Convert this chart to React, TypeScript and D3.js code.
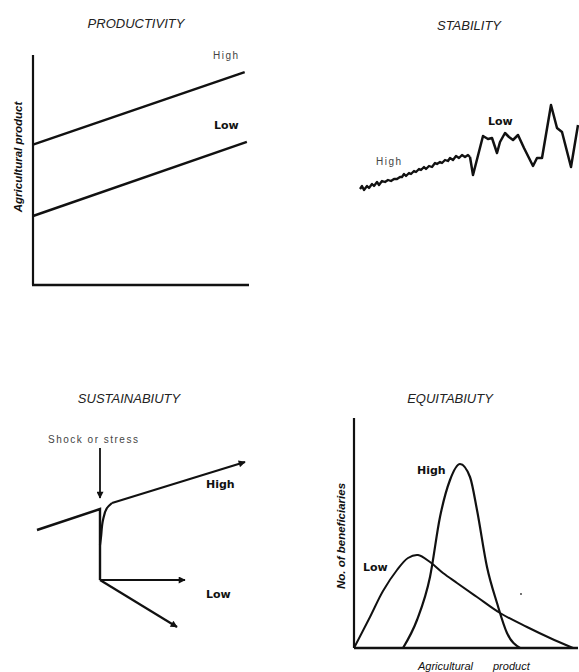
import React from "react";
import * as d3 from "d3";

// ---------- DATA ----------
// Productivity: [time, agricultural product]
const prodHigh: [number, number][] = [[0, 61], [98, 92.6]];
const prodLow: [number, number][] = [[0, 30], [99, 62.2]];

// Stability: [time, product]
const stabHigh: [number, number][] = [
  [0, 11], [2, 14], [4, 10], [7, 14], [9, 12], [12, 16], [14, 14], [17, 18], [19, 15],
  [22, 19], [25, 18], [28, 20], [31, 19], [34, 21], [37, 21], [40, 23], [42, 23], [44, 26],
  [46, 24], [49, 27], [51, 26], [54, 29], [56, 28], [59, 31], [61, 30], [64, 33], [66, 31],
  [69, 34], [72, 33], [75, 37], [77, 36], [80, 38], [82, 37], [85, 40], [88, 39], [90, 42],
  [93, 40], [96, 44], [99, 42], [102, 45], [105, 43], [108, 45], [110, 43],
];
const stabLow: [number, number][] = [
  [110, 43], [113, 25], [123, 64], [128, 61], [132, 62], [137, 47], [140, 58], [145, 67],
  [149, 63], [153, 60], [158, 65], [164, 52], [173, 34], [177, 42], [182, 42], [191, 95],
  [197, 72], [202, 68], [211, 33], [218, 75],
];

// Sustainability: [time, product]
const sustBefore: [number, number][] = [[0, 100], [63, 121], [63, 50]];
const sustRecovery: [number, number][] = [[63, 85], [64, 93], [66, 110], [70, 122], [75, 127], [208, 168]];
const sustLowFlat: [number, number][] = [[63, 50], [148, 50]];
const sustLowDecline: [number, number][] = [[63, 50], [140, 3]];
const sustShock: [number, number][] = [[63, 182], [63, 132]];

// Equitability: [agricultural product, no. of beneficiaries]
const eqHigh: [number, number][] = [
  [49, 0], [63, 28], [76, 71], [86, 131], [96, 168], [106, 184], [116, 171], [123, 138],
  [133, 81], [143, 45], [153, 15], [166, 0],
];
const eqLow: [number, number][] = [
  [0, 0], [16, 31], [29, 57], [43, 78], [54, 90], [64, 93], [76, 86], [89, 75], [103, 65],
  [123, 51], [146, 35], [173, 21], [196, 10], [219, 0],
];

const titles = ["PRODUCTIVITY", "STABILITY", "SUSTAINABIUTY", "EQUITABIUTY"];
const seriesLabels = ["High", "Low"];

// ---------- SCALES ----------
const pX = d3.scaleLinear().domain([0, 100]).range([33, 249]);
const pY = d3.scaleLinear().domain([0, 100]).range([285, 55]);

const sX = d3.scaleLinear().domain([0, 218]).range([360, 578]);
const sY = d3.scaleLinear().domain([0, 100]).range([200, 100]);

const uX = d3.scaleLinear().domain([0, 210]).range([37, 247]);
const uY = d3.scaleLinear().domain([0, 180]).range([630, 450]);

const eX = d3.scaleLinear().domain([0, 224]).range([354, 578]);
const eY = d3.scaleLinear().domain([0, 230]).range([648, 418]);

const mk = (x: d3.ScaleLinear<number, number>, y: d3.ScaleLinear<number, number>, curve: d3.CurveFactory = d3.curveLinear) =>
  d3.line<[number, number]>().x((d) => x(d[0])).y((d) => y(d[1])).curve(curve);

const titleStyle: React.CSSProperties = {
  fontFamily: "'Liberation Sans', Arial, sans-serif",
  fontStyle: "italic",
  fontSize: 13,
  fill: "#222",
};
const grayLabel: React.CSSProperties = {
  fontFamily: "'Liberation Sans', Arial, sans-serif",
  fontSize: 10,
  letterSpacing: 1.5,
  fill: "#444",
};
const boldLabel: React.CSSProperties = {
  fontFamily: "'DejaVu Sans', sans-serif",
  fontSize: 11,
  fontWeight: 600,
  fill: "#111",
};
const axisLabel: React.CSSProperties = {
  fontFamily: "'Liberation Sans', Arial, sans-serif",
  fontStyle: "italic",
  fontWeight: "bold",
  fontSize: 11.5,
  fill: "#111",
};

export default function App() {
  const pLine = mk(pX, pY);
  const sLine = mk(sX, sY);
  const uLine = mk(uX, uY);
  const uCurve = mk(uX, uY, d3.curveMonotoneY);
  const eHighLine = mk(eX, eY, d3.curveMonotoneX);
  const eLowLine = mk(eX, eY, d3.curveCatmullRom.alpha(0.5));

  return (
    <svg width={579} height={672} style={{ position: "absolute", left: 0, top: 0, background: "#fff" }}>
      <defs>
        <marker id="arr" viewBox="0 0 10 10" refX={9} refY={5} markerWidth={9} markerHeight={7}
          markerUnits="userSpaceOnUse" orient="auto">
          <path d="M0,0 L10,5 L0,10 z" fill="#111" />
        </marker>
      </defs>

      {/* PRODUCTIVITY */}
      <text x={136} y={28} textAnchor="middle" style={titleStyle}>{titles[0]}</text>
      <line x1={pX(0)} x2={pX(0)} y1={pY(100)} y2={pY(0)} stroke="#111" strokeWidth={2.2} />
      <line x1={pX(0) - 1} x2={pX(100)} y1={pY(0)} y2={pY(0)} stroke="#111" strokeWidth={2.4} />
      <path d={pLine(prodHigh) || ""} fill="none" stroke="#111" strokeWidth={2.4} />
      <path d={pLine(prodLow) || ""} fill="none" stroke="#111" strokeWidth={2.4} />
      <text x={213} y={59} style={grayLabel}>{seriesLabels[0]}</text>
      <text x={214} y={129} style={boldLabel}>{seriesLabels[1]}</text>
      <text transform="translate(22,157) rotate(-90)" textAnchor="middle" style={axisLabel}>Agricultural product</text>

      {/* STABILITY */}
      <text x={469} y={30} textAnchor="middle" style={titleStyle}>{titles[1]}</text>
      <path d={sLine(stabHigh) || ""} fill="none" stroke="#111" strokeWidth={2.3} strokeLinejoin="round" />
      <path d={sLine(stabLow) || ""} fill="none" stroke="#111" strokeWidth={2.5} strokeLinejoin="round" />
      <text x={376} y={165} style={grayLabel}>{seriesLabels[0]}</text>
      <text x={488} y={125} style={boldLabel}>{seriesLabels[1]}</text>

      {/* SUSTAINABILITY */}
      <text x={129} y={403} textAnchor="middle" style={titleStyle}>{titles[2]}</text>
      <text x={48} y={443} style={grayLabel}>Shock or stress</text>
      <path d={uLine(sustShock) || ""} fill="none" stroke="#111" strokeWidth={1.8} markerEnd="url(#arr)" />
      <path d={uLine(sustBefore) || ""} fill="none" stroke="#111" strokeWidth={2.4} />
      <path d={uCurve(sustRecovery.slice(0, 5)) || ""} fill="none" stroke="#111" strokeWidth={2.2} />
      <path d={uLine(sustRecovery.slice(4)) || ""} fill="none" stroke="#111" strokeWidth={2.2} markerEnd="url(#arr)" />
      <path d={uLine(sustLowFlat) || ""} fill="none" stroke="#111" strokeWidth={2} markerEnd="url(#arr)" />
      <path d={uLine(sustLowDecline) || ""} fill="none" stroke="#111" strokeWidth={2.2} markerEnd="url(#arr)" />
      <text x={206} y={488} style={boldLabel}>{seriesLabels[0]}</text>
      <text x={206} y={598} style={boldLabel}>{seriesLabels[1]}</text>

      {/* EQUITABILITY */}
      <text x={450} y={403} textAnchor="middle" style={titleStyle}>{titles[3]}</text>
      <line x1={eX(0)} x2={eX(0)} y1={eY(230)} y2={eY(0)} stroke="#111" strokeWidth={2.2} />
      <line x1={eX(0)} x2={eX(224)} y1={eY(0)} y2={eY(0)} stroke="#111" strokeWidth={2.4} />
      <path d={eHighLine(eqHigh) || ""} fill="none" stroke="#111" strokeWidth={2.2} />
      <path d={eLowLine(eqLow) || ""} fill="none" stroke="#111" strokeWidth={2} />
      <text x={417} y={474} style={boldLabel}>{seriesLabels[0]}</text>
      <text x={363} y={571} style={boldLabel}>{seriesLabels[1]}</text>
      <circle cx={eX(167)} cy={eY(54)} r={0.9} fill="#333" />
      <text transform="translate(345,536) rotate(-90)" textAnchor="middle" style={axisLabel}>No. of beneficiaries</text>
      <text x={418} y={670} style={{ ...axisLabel, fontWeight: "normal", fontSize: 11 }}>Agricultural</text>
      <text x={493} y={670} style={{ ...axisLabel, fontWeight: "normal", fontSize: 11 }}>product</text>
    </svg>
  );
}
